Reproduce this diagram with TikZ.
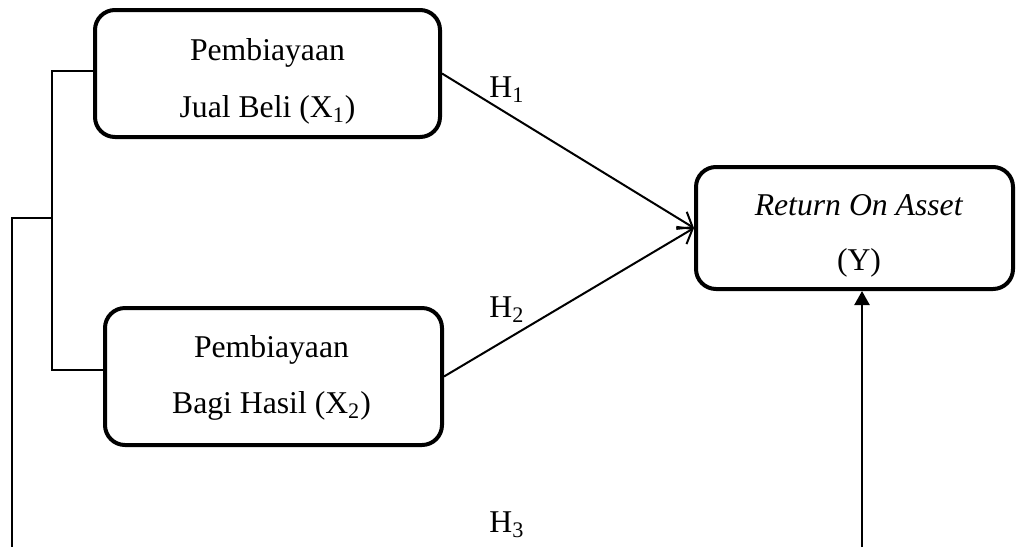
\documentclass[tikz,border=0pt]{standalone}
\usepackage{fontspec}
\setmainfont{Liberation Serif}
\usetikzlibrary{arrows.meta}
\begin{document}
\begin{tikzpicture}[x=0.5pt,y=-0.5pt,
  box/.style={draw, line width=2pt, rounded corners=10pt, inner sep=0pt},
  txt/.style={anchor=base, inner sep=0pt, font=\fontsize{15.85}{19}\selectfont},
  thin line/.style={line width=0.85pt},
  hyp/.style={line width=1pt, -{Straight Barb[length=6.5pt,width=10pt,line width=1pt]}},
  up/.style={line width=1.1pt, -{Triangle[length=7pt,width=7.5pt]}}]
\useasboundingbox (0,0) rectangle (1016,547);
% boxes
\node[box, minimum width=172.5pt, minimum height=63.5pt] (b1) at (267.5,73.5) {};
\node[box, minimum width=168.5pt, minimum height=68.5pt] (b2) at (273.5,376.5) {};
\node[box, minimum width=158.5pt, minimum height=61pt] (b3) at (854.5,228) {};
% texts
\node[txt] (t1a) at (267.5,60) {Pembiayaan};
\node[txt] (t1b) at (267.5,117) {Jual Beli (X\textsubscript{1})};
\node[txt] (t2a) at (271.5,357) {Pembiayaan};
\node[txt] (t2b) at (271.5,413) {Bagi Hasil (X\textsubscript{2})};
\node[txt] (t3a) at (859,215) {\textit{Return On Asset}};
\node[txt] (t3b) at (859,270) {(Y)};
% hypothesis labels
\node[txt, anchor=base west] (h1) at (489,97) {H\textsubscript{1}};
\node[txt, anchor=base west] (h2) at (489,317) {H\textsubscript{2}};
\node[txt, anchor=base west] (h3) at (489,532) {H\textsubscript{3}};
% connectors
\coordinate (jA) at (52,71);
\coordinate (jB) at (52,370);
\coordinate (jC) at (52,218);
\coordinate (jD) at (12,218);
\coordinate (jE) at (12,547);
\coordinate (kA) at (862,547);
\draw[thin line] (b1.west |- jA) -- (jA) -- (jB) -- (b2.west |- jB);
\draw[thin line] (jC) -- (jD) -- (jE);
\draw[hyp] (b1.east) -- (b3.west);
\draw[hyp] (b2.east) -- (b3.west);
\draw[up] (kA) -- (kA |- b3.south);
\end{tikzpicture}
\end{document}
